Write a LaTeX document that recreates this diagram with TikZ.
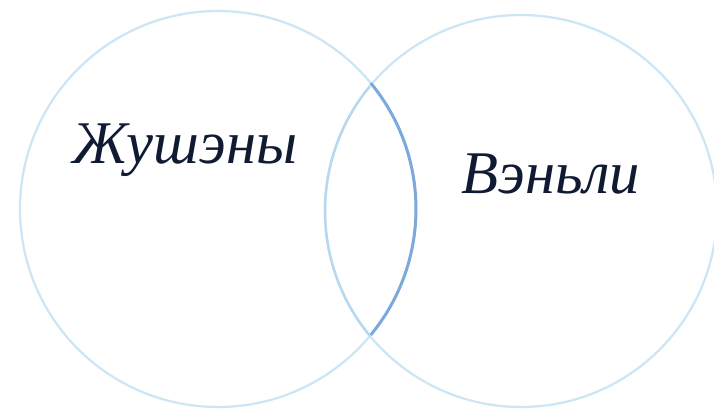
\documentclass[tikz,border=0pt]{standalone}
\usepackage{fontspec}
\setmainfont{Liberation Serif}
\usetikzlibrary{positioning}
\definecolor{ringPale}{HTML}{CCE6F6}
\definecolor{lensPale}{HTML}{B6D9F0}
\definecolor{lensDeep}{HTML}{7DA8DC}
\definecolor{labelInk}{HTML}{101A33}

\begin{document}
\begin{tikzpicture}[scale=1.0]
        \useasboundingbox (0,0) rectangle (14.28,8.16);
        \coordinate (leftC) at (4.36,3.98);
        \coordinate (rightC) at (10.42,3.94);
        \draw[ringPale, line width=1.3pt] (leftC) circle (3.96);
        \draw[ringPale, line width=1.3pt] (rightC) circle (3.92);
        % part of the right ring inside the left one
        \draw[lensPale, line width=1.4pt] ([shift={(140.5:3.92)}]rightC) arc (140.5:219.5:3.92);
        % part of the left ring inside the right one
        \draw[lensDeep, line width=1.7pt] ([shift={(-39.5:3.96)}]leftC) arc (-39.5:39.5:3.96);
        \node[labelInk, font=\fontsize{34.5}{40}\selectfont\itshape, anchor=base] (ruSheng) at (3.70,4.90) {Жушэны};
        \node[labelInk, font=\fontsize{34.5}{40}\selectfont\itshape, anchor=base] (wenLi) at (11.02,4.30) {Вэньли};
      \end{tikzpicture}
\end{document}
